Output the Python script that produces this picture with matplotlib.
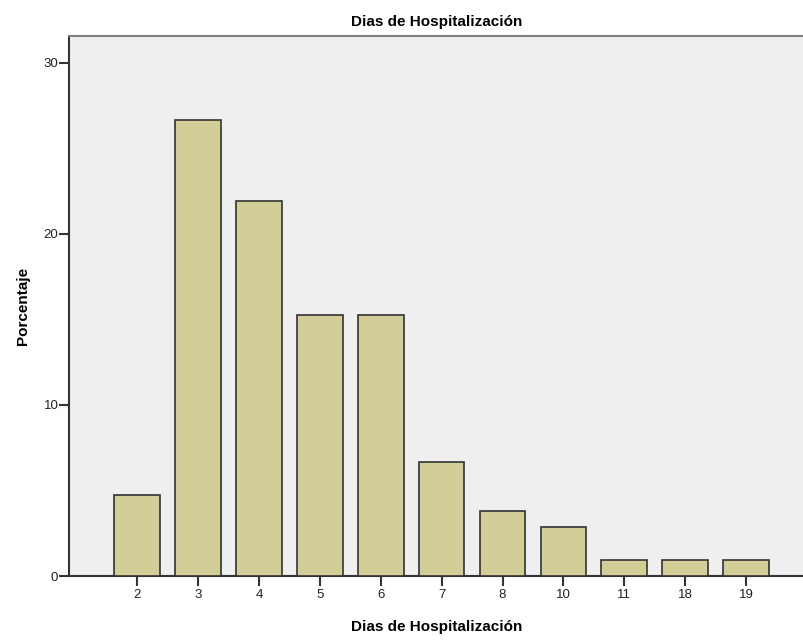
import numpy as np
import matplotlib
matplotlib.use("Agg")
import matplotlib.pyplot as plt

plt.rcParams['font.family'] = ['Liberation Sans', 'DejaVu Sans']

dias = ['2', '3', '4', '5', '6', '7', '8', '10', '11', '18', '19']
porcentaje = [4.76, 26.67, 21.90, 15.24, 15.24, 6.67, 3.81, 2.86, 0.95, 0.95, 0.95]

fig = plt.figure(figsize=(8.04, 6.41), dpi=100)
ax = fig.add_axes([0.0864, 0.1014, 0.9136, 0.8424])
ax.set_facecolor('#efefef')

x = np.arange(len(dias))
ax.bar(x, porcentaje, width=0.75, color='#d3ce97', edgecolor='#333333', linewidth=1.2, zorder=3)

ax.set_xlim(-1.11, 10.95)
ax.set_ylim(0, 31.56)
ax.set_xticks(x)
ax.set_xticklabels(dias)
ax.set_yticks([0, 10, 20, 30])

ax.tick_params(axis='both', direction='out', length=7, width=1.5, color='#333333',
               labelsize=9.5, labelcolor='#222222')
ax.tick_params(axis='x', pad=2)
ax.tick_params(axis='y', pad=1)

ax.spines['right'].set_visible(False)
ax.spines['top'].set_color('#808080')
ax.spines['top'].set_linewidth(1.5)
ax.spines['left'].set_color('#333333')
ax.spines['left'].set_linewidth(1.5)
ax.spines['bottom'].set_color('#333333')
ax.spines['bottom'].set_linewidth(1.5)

ax.set_title('Dias de Hospitalización', fontsize=11, fontweight='bold', pad=7)
ax.set_xlabel('Dias de Hospitalización', fontsize=11, fontweight='bold', labelpad=14)
ax.set_ylabel('Porcentaje', fontsize=11, fontweight='bold', labelpad=10)

fig.savefig('out.png', dpi=100)
